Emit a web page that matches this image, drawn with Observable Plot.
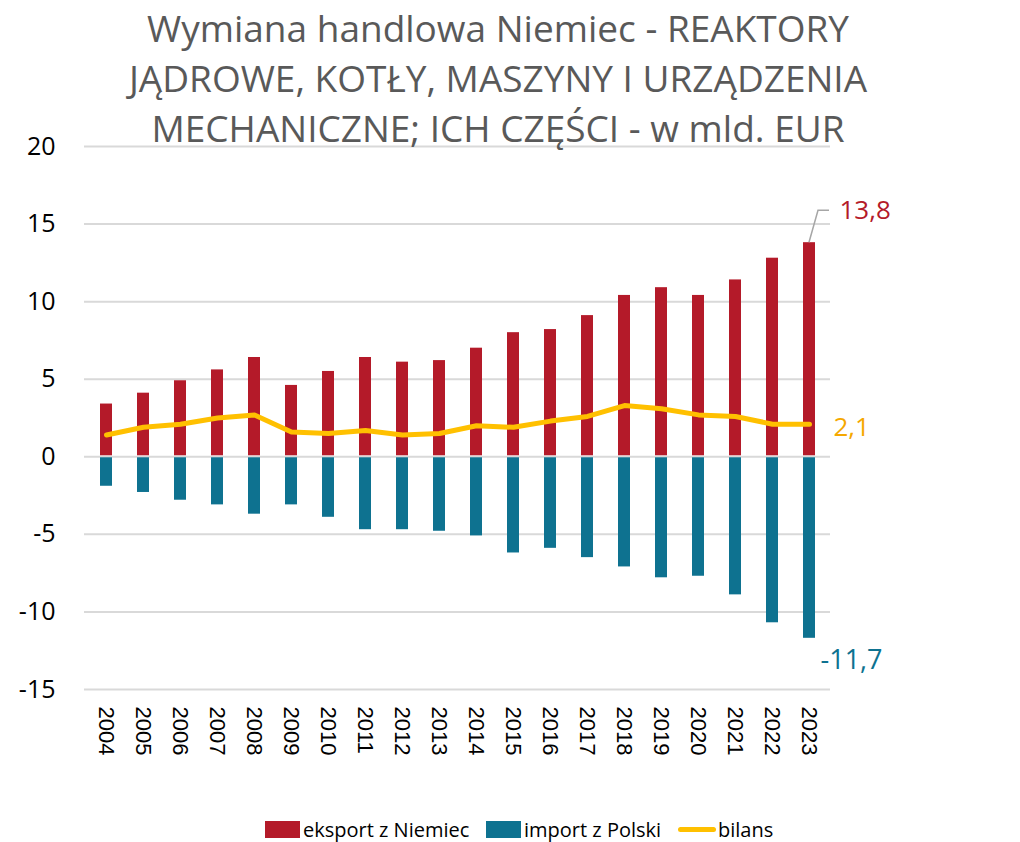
<!DOCTYPE html>
<html>
<head>
<meta charset="utf-8">
<script src="https://cdn.jsdelivr.net/npm/d3@7"></script>
<script src="https://cdn.jsdelivr.net/npm/@observablehq/plot@0.6"></script>
<style>
  html, body { margin: 0; padding: 0; background: #fff; }
  #wrap { position: relative; width: 1020px; height: 842px; overflow: hidden; font-family: "Open Sans", sans-serif; }
  #title { position: absolute; left: 0; top: 3px; width: 996px; text-align: center; color: #595959; font-size: 37px; line-height: 50px; z-index: 2; pointer-events: none; }
  #legend { position: absolute; left: 0; top: 812px; width: 1020px; height: 30px; font-size: 20px; color: #000; }
  .li { position: absolute; top: 0; display: flex; align-items: center; height: 34px; white-space: nowrap; }
  .sw { width: 35px; height: 17px; margin-right: 3px; }
  .ln { width: 38px; height: 5px; border-radius: 3px; margin-right: 2px; }
  #chart { position: absolute; left: 0; top: 0; }
</style>
</head>
<body>
<div id="wrap">
  <div id="title">Wymiana handlowa Niemiec - REAKTORY<br>JĄDROWE, KOTŁY, MASZYNY I URZĄDZENIA<br>MECHANICZNE; ICH CZĘŚCI - w mld. EUR</div>
  <div id="chart"></div>
  <div id="legend"></div>
</div>
<script>
const years = ["2004","2005","2006","2007","2008","2009","2010","2011","2012","2013","2014","2015","2016","2017","2018","2019","2020","2021","2022","2023"];
const eksport = [3.4,4.1,4.9,5.6,6.4,4.6,5.5,6.4,6.1,6.2,7.0,8.0,8.2,9.1,10.4,10.9,10.4,11.4,12.8,13.8];
const importPL = [-1.9,-2.3,-2.8,-3.1,-3.7,-3.1,-3.9,-4.7,-4.7,-4.8,-5.1,-6.2,-5.9,-6.5,-7.1,-7.8,-7.7,-8.9,-10.7,-11.7];
const bilans = [1.4,1.9,2.1,2.5,2.7,1.6,1.5,1.7,1.4,1.5,2.0,1.9,2.3,2.6,3.3,3.1,2.7,2.6,2.1,2.1];
const yTicks = [-15,-10,-5,0,5,10,15,20];
const seriesNames = ["eksport z Niemiec","import z Polski","bilans"];
const colors = ["#B41A29","#0E7290","#FFC000"];
const labelColors = ["#B41A29","#0E7290","#F5A800"];

const rows = years.map((y,i) => ({year: y, eksport: eksport[i], imp: importPL[i], bilans: bilans[i]}));
const last = rows[rows.length-1];
const fmt = v => String(v.toFixed(1)).replace(".", ",");

const chart = Plot.plot({
  width: 1020,
  height: 842,
  marginLeft: 84,
  marginRight: 190,
  marginTop: 146,
  marginBottom: 153,
  style: {fontFamily: "'Open Sans', sans-serif", background: "transparent", overflow: "visible"},
  x: {type: "band", domain: years, paddingInner: 0.68, paddingOuter: 0.34, label: null},
  y: {domain: [-15, 20], ticks: yTicks, label: null},
  marks: [
    Plot.ruleY(yTicks, {stroke: "#d9d9d9", strokeWidth: 2}),
    Plot.barY(rows, {x: "year", y1: 0, y2: "eksport", fill: colors[0], insetBottom: 1}),
    Plot.barY(rows, {x: "year", y1: 0, y2: "imp", fill: colors[1], insetTop: 1}),
    Plot.line(rows, {x: "year", y: "bilans", stroke: colors[2], strokeWidth: 5, strokeLinejoin: "round", strokeLinecap: "round"}),
    Plot.axisY({ticks: yTicks, tickSize: 0, tickPadding: 29, fontSize: 25, fill: "#000", tickFormat: d => d, label: null}),
    Plot.axisX({tickSize: 0, tickRotate: 90, tickPadding: 17, fontSize: 22, fill: "#000", label: null, fontFamily: "'Liberation Sans', Arial, sans-serif"}),
    Plot.text([last], {x: "year", y: "eksport", text: d => fmt(d.eksport), fill: labelColors[0], fontSize: 26, textAnchor: "start", dx: 30, dy: -32}),
    Plot.text([last], {x: "year", y: "bilans", text: d => fmt(d.bilans), fill: labelColors[2], fontSize: 26, textAnchor: "start", dx: 24, dy: 3}),
    Plot.text([last], {x: "year", y: "imp", text: d => fmt(d.imp), fill: labelColors[1], fontSize: 27, textAnchor: "start", dx: 11, dy: 22})
  ]
});
document.getElementById("chart").appendChild(chart);

// leader line for the export label, positioned via the chart's scales
const xs = chart.scale("x"), ys = chart.scale("y");
const cx = xs.apply(last.year) + xs.bandwidth / 2;
const cy = ys.apply(last.eksport);
d3.select(chart).append("path")
  .attr("d", `M${cx},${cy} L${cx + 9},${cy - 32} L${cx + 20},${cy - 32}`)
  .attr("fill", "none").attr("stroke", "#a6a6a6").attr("stroke-width", 1.5);

// legend
const legend = d3.select("#legend");
const lefts = [265, 486, 678];
seriesNames.forEach((name, i) => {
  const it = legend.append("div").attr("class", "li").style("left", lefts[i] + "px");
  it.append("div").attr("class", i < 2 ? "sw" : "ln").style("background", colors[i]);
  it.append("span").text(name);
});
</script>
</body>
</html>
